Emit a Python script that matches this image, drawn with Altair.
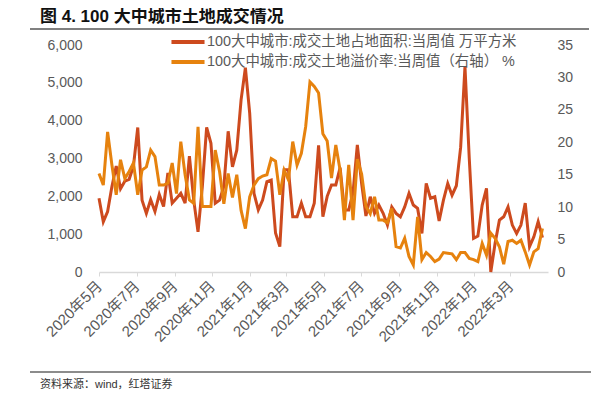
import altair as alt
import pandas as pd

TITLE = "图 4. 100 大中城市土地成交情况"
SOURCE = "资料来源：wind，红塔证券"
SERIES_AREA = "100大中城市:成交土地占地面积:当周值 万平方米"
SERIES_RATE = "100大中城市:成交土地溢价率:当周值（右轴） %"

start_date = "2020-05-01"
n_weeks = 104

area = [1950, 1330, 1600, 2260, 2800, 2200, 2400, 2450, 2800, 3820,
        1900, 1550, 1910, 1600, 2050, 1730, 2620, 1820, 1950, 2080,
        1820, 3060, 1900, 1060, 2260, 3820, 3400, 1820, 1900, 2260,
        3720, 2780, 3220, 4550, 5400, 4200, 2080, 1640, 1900, 2390,
        2430, 1030, 670, 2700, 2700, 1460, 1460, 1820, 1460, 1460,
        1820, 3350, 1460, 2000, 2300, 2300, 2760, 1640, 1640, 2100,
        3360, 2340, 1480, 1990, 1550, 1770, 1550, 1240, 1720, 1550,
        1460, 1720, 2080, 1770, 1680, 1020, 2340, 1950, 1990, 1350,
        1900, 2340, 2030, 2280, 3300, 5430, 3000, 890, 950, 1770,
        2210, 0, 760, 1370, 1460, 1720, 1240, 1020, 1240, 1820,
        670, 930, 1330, 910]

rate = [15.2, 13.4, 21.6, 16.5, 11.9, 17.3, 14.4, 15.5, 16.8, 11.9,
        15.7, 16.2, 18.8, 17.8, 13.4, 13.4, 13.7, 16.8, 12.1, 20.1,
        15.0, 11.1, 10.6, 22.4, 10.1, 10.1, 10.1, 18.8, 15.5, 10.5,
        15.2, 11.5, 15.0, 9.5, 6.7, 11.6, 13.4, 14.4, 14.8, 15.0,
        17.5, 17.1, 11.9, 15.7, 14.2, 20.1, 16.5, 18.3, 22.4, 29.3,
        28.6, 27.6, 21.3, 20.2, 14.5, 19.6, 15.7, 8.0, 16.5, 8.0,
        17.4, 15.1, 10.1, 9.0, 11.6, 8.0, 8.0, 7.6, 9.8, 3.9,
        3.7, 5.2, 2.4, 1.1, 8.5, 1.9, 3.0, 2.4, 1.6, 2.0,
        3.0, 2.9, 2.8, 1.9, 3.0, 3.0, 2.1, 1.9, 1.6, 4.4,
        2.6, 6.0, 5.2, 3.9, 1.2, 4.7, 4.9, 4.4, 4.9, 3.1,
        1.1, 3.1, 3.6, 6.7]

tick_dates = ["2020-05-01", "2020-07-01", "2020-09-01", "2020-11-01",
              "2021-01-01", "2021-03-01", "2021-05-01", "2021-07-01",
              "2021-09-01", "2021-11-01", "2022-01-01", "2022-03-01"]
x_domain = ["2020-05-01", "2022-05-01"]
left_ticks = [0, 1000, 2000, 3000, 4000, 5000, 6000]
right_ticks = [0, 5, 10, 15, 20, 25, 30, 35]

RED = "#CD4A1E"
ORANGE = "#E6820E"
GREY = "#595959"
RULE = "gray"
FONT = "Liberation Sans, Noto Sans CJK SC"


def dt(s):
    y, m, d = (int(v) for v in s.split("-"))
    return alt.DateTime(year=y, month=m, date=d)


dates = pd.date_range(start_date, periods=n_weeks, freq="7D")
df_area = pd.DataFrame({"date": dates, "value": area, "series": SERIES_AREA})
df_rate = pd.DataFrame({"date": dates, "value": rate, "series": SERIES_RATE})

x_enc = alt.X(
    "date:T",
    scale=alt.Scale(domain=[dt(s) for s in x_domain], nice=False),
    axis=alt.Axis(
        values=[dt(s) for s in tick_dates],
        labelExpr="timeFormat(datum.value, '%Y年%-m月')",
        labelAngle=-45, labelAlign="right", labelBaseline="middle",
        labelPadding=7, labelFontSize=15, labelColor=GREY, labelFont=FONT,
        domainColor="#D9D9D9", domainWidth=1.5, tickColor="#D9D9D9",
        tickSize=4, grid=False, title=None, labelOverlap=False,
    ),
)

color_enc = alt.Color(
    "series:N",
    scale=alt.Scale(domain=[SERIES_AREA, SERIES_RATE], range=[RED, ORANGE]),
    legend=alt.Legend(
        title=None, orient="none", legendX=80, legendY=-12,
        symbolType="M-2.5,0H2.5", symbolSize=175, symbolStrokeWidth=4,
        labelFontSize=14.4, labelColor=GREY, labelFont=FONT,
        labelLimit=500, labelOffset=10, rowPadding=3, padding=0,
    ),
)

line_area = alt.Chart(df_area).mark_line(strokeWidth=3).encode(
    x=x_enc,
    y=alt.Y("value:Q", scale=alt.Scale(domain=[0, 6000], nice=False),
            axis=alt.Axis(orient="left", values=left_ticks, format=",d",
                          domain=False, ticks=False, grid=False, title=None,
                          labelFontSize=14, labelColor=GREY, labelFont=FONT,
                          labelPadding=17)),
    color=color_enc,
)

line_rate = alt.Chart(df_rate).mark_line(strokeWidth=3).encode(
    x=x_enc,
    y=alt.Y("value:Q", scale=alt.Scale(domain=[0, 35], nice=False),
            axis=alt.Axis(orient="right", values=right_ticks,
                          domain=False, ticks=False, grid=False, title=None,
                          labelFontSize=14, labelColor=GREY, labelFont=FONT,
                          labelPadding=9)),
    color=color_enc,
)

lines = alt.layer(line_area, line_rate).resolve_scale(y="independent")

title_txt = alt.Chart(pd.DataFrame({"t": [TITLE]})).mark_text(
    align="left", baseline="middle", fontSize=17, fontWeight="bold",
    font=FONT, color="#111111",
).encode(x=alt.value(-59), y=alt.value(-28), text="t:N")

source_txt = alt.Chart(pd.DataFrame({"t": [SOURCE]})).mark_text(
    align="left", baseline="middle", fontSize=11, font=FONT, color="#333333",
).encode(x=alt.value(-59), y=alt.value(340), text="t:N")

bottom_rule = alt.Chart(pd.DataFrame({"pos": ["bottom"]})).mark_rule(
    color="#8C8C8C", strokeWidth=2,
).encode(x=alt.value(-69), x2=alt.value(500), y=alt.value(327))

top_rule = alt.Chart(pd.DataFrame({"pos": ["top"]})).mark_rule(
    color=RULE, strokeWidth=2,
).encode(x=alt.value(-69), x2=alt.value(490), y=alt.value(-16))

top_bar = alt.Chart(pd.DataFrame({"pos": ["topbar"]})).mark_rect(
    fill=RULE, opacity=1,
).encode(x=alt.value(-69), x2=alt.value(490), y=alt.value(-17), y2=alt.value(-15))

chart = alt.layer(lines, title_txt, source_txt, bottom_rule,
                  top_rule, top_bar).properties(
    width=449, height=227,
    autosize=alt.AutoSizeParams(type="none"),
    padding={"left": 91, "top": 37, "right": 43, "bottom": 118},
).configure_view(stroke=None)

chart.save("out.html", embed_options={"renderer": "svg", "actions": False})
